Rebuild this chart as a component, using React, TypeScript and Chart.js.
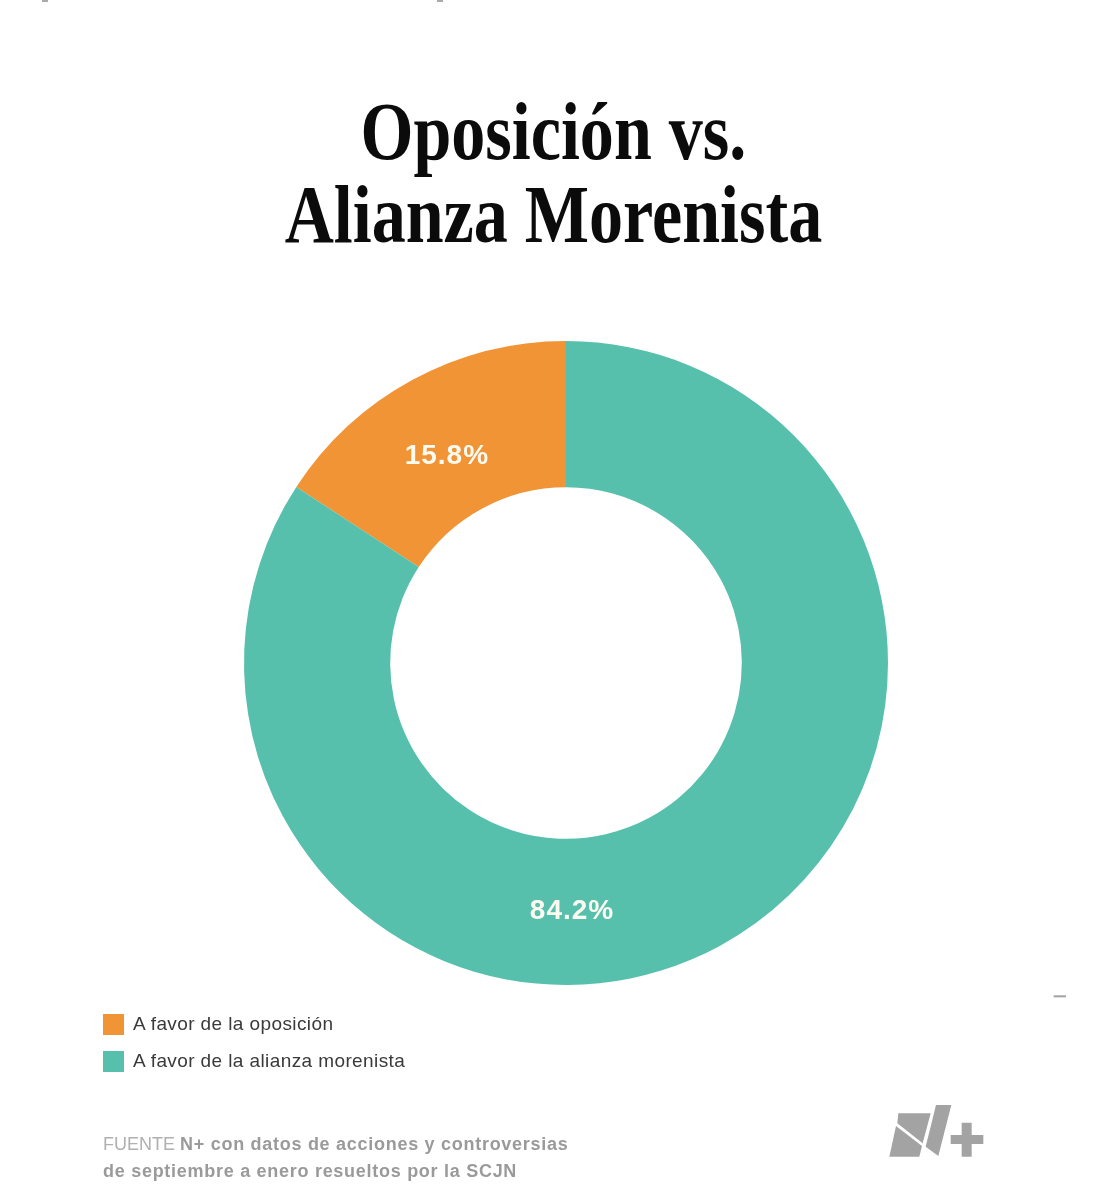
import { useEffect, useRef } from "react";
import { Chart, registerables } from "chart.js";

Chart.register(...registerables);

const categories = ["A favor de la oposición", "A favor de la alianza morenista"];
const values = [15.8, 84.2];
const valueLabels = ["15.8%", "84.2%"];
const colors = ["#f09436", "#57c0ad"];
const titleLines = ["Oposición vs.", "Alianza Morenista"];

// label anchors in the ring: degrees from 12 o'clock, distance from the centre
const labelAngles = [-29.9, 178.6];
const labelRadii = [239, 248];

const sliceLabels = {
  id: "sliceLabels",
  afterDatasetsDraw(chart: Chart) {
    const { ctx } = chart;
    const arc = chart.getDatasetMeta(0).data[0];
    ctx.save();
    ctx.font = "bold 28px 'Liberation Sans'";
    (ctx as any).letterSpacing = "1px";
    ctx.fillStyle = "#fdfbf0";
    ctx.textAlign = "center";
    ctx.textBaseline = "middle";
    valueLabels.forEach((label, i) => {
      const a = (labelAngles[i] * Math.PI) / 180;
      ctx.fillText(label, arc.x + labelRadii[i] * Math.sin(a), arc.y - labelRadii[i] * Math.cos(a));
    });
    ctx.restore();
  }
};

export default function App() {
  const canvasRef = useRef<HTMLCanvasElement | null>(null);

  useEffect(() => {
    if (!canvasRef.current) {
      return;
    }
    const chart = new Chart(canvasRef.current, {
      type: "doughnut",
      data: {
        labels: categories,
        datasets: [{ data: values, backgroundColor: colors, borderWidth: 0 }]
      },
      options: {
        responsive: false,
        animation: false,
        cutout: "54.6%",
        rotation: (-values[0] / 100) * 360,
        layout: { padding: { left: 244, right: 219, top: 341, bottom: 215 } },
        plugins: { legend: { display: false }, tooltip: { enabled: false } }
      },
      plugins: [sliceLabels]
    });
    return () => chart.destroy();
  }, []);

  return (
    <div style={{ position: "absolute", left: 0, top: 0, width: 1107, height: 1200, background: "#fff", overflow: "hidden" }}>
      <canvas ref={canvasRef} width={1107} height={1200} style={{ position: "absolute", left: 0, top: 0 }} />

      {titleLines.map((line, i) => (
        <div
          key={line}
          style={{
            position: "absolute",
            left: 0,
            width: 1107,
            top: 84 + i * 83,
            textAlign: "center",
            fontFamily: "'Liberation Serif'",
            fontWeight: "bold",
            fontSize: 82,
            lineHeight: "96px",
            color: "#0b0b0b",
            transform: "scaleX(0.83)",
            transformOrigin: "553px 0",
            whiteSpace: "nowrap"
          }}
        >
          {line}
        </div>
      ))}

      {categories.map((name, i) => (
        <div key={name}>
          <div style={{ position: "absolute", left: 103, top: 1014 + i * 37, width: 21, height: 21, background: colors[i] }} />
          <div
            style={{
              position: "absolute",
              left: 133,
              top: 1012 + i * 37,
              fontFamily: "'Liberation Sans'",
              fontSize: 19,
              lineHeight: "24px",
              letterSpacing: "0.4px",
              color: "#3a3a3a",
              whiteSpace: "nowrap"
            }}
          >
            {name}
          </div>
        </div>
      ))}

      <div
        style={{
          position: "absolute",
          left: 103,
          top: 1131,
          fontFamily: "'Liberation Sans'",
          fontSize: 18,
          lineHeight: "27px",
          letterSpacing: "0.72px",
          color: "#9a9a9a",
          whiteSpace: "nowrap"
        }}
      >
        <span style={{ fontWeight: "normal", letterSpacing: 0, color: "#b0b0b0" }}>FUENTE </span>
        <b>N+ con datos de acciones y controversias</b>
        <br />
        <b>de septiembre a enero resueltos por la SCJN</b>
      </div>

      <svg width={240} height={200} viewBox="0 0 720 600" style={{ position: "absolute", left: 860, top: 970 }}>
        <g fill="#a3a3a3">
          <polygon points="115,430 212,430 188,520 112,460" />
          <polygon points="108,468 186,528 178,560 88,560" />
          <polygon points="228,405 274,405 235,558 197,530" />
          <polygon points="305,458 335,458 335,495 370,495 370,522 335,522 335,560 305,560 305,522 272,522 272,495 305,495" />
          <rect x="581" y="76" width="37" height="6" />
        </g>
      </svg>
      <div style={{ position: "absolute", left: 42, top: 0, width: 6, height: 2, background: "#aaa" }} />
      <div style={{ position: "absolute", left: 437, top: 0, width: 6, height: 2, background: "#aaa" }} />
    </div>
  );
}
